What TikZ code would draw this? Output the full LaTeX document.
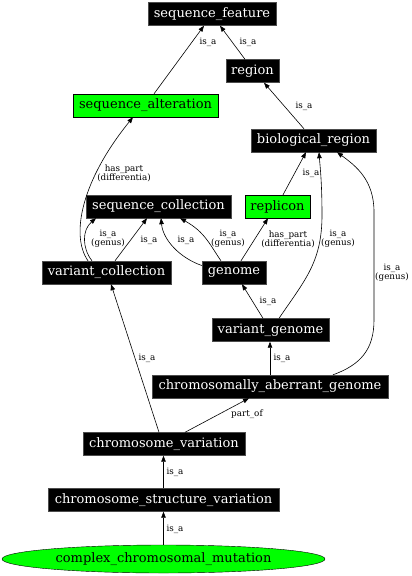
\documentclass[tikz,border=0pt]{standalone}
\usepackage{fontspec}
\setmainfont{DejaVu Serif}
\usetikzlibrary{arrows.meta,shapes.geometric}
\definecolor{ggreen}{HTML}{00FF00}
\tikzset{
  term/.style={rectangle, fill=black, draw=black!70, text=white, minimum height=23pt, inner xsep=2pt, inner ysep=0pt, font=\fontsize{13}{14}\selectfont},
  gterm/.style={rectangle, fill=ggreen, draw=black, text=black, minimum height=23pt, inner xsep=2pt, inner ysep=0pt, font=\fontsize{13}{14}\selectfont},
  gell/.style={ellipse, fill=ggreen, draw=black, text=black, minimum height=28pt, minimum width=323pt, inner sep=0pt, font=\fontsize{13}{14}\selectfont},
  edge/.style={draw=black, line width=0.6pt, -{Triangle[length=6pt,width=4.5pt]}},
  lbl/.style={inner sep=0pt, align=center, font=\fontsize{8.8}{9}\selectfont}
}
\begin{document}
\begin{tikzpicture}[x=1pt,y=-1pt]
\useasboundingbox (0,0) rectangle (412,576);
\fill[white] (0,0) rectangle (412,576);
% nodes
\node[term, minimum width=128pt] (sf) at (212,14) {sequence\_feature};
\node[term, minimum width=53pt] (region) at (252.5,71) {region};
\node[gterm, minimum width=145pt] (salt) at (145.5,105.5) {sequence\_alteration};
\node[term, minimum width=125pt] (bioreg) at (313.5,140.5) {biological\_region};
\node[term, minimum width=145pt] (seqcoll) at (158.5,206.5) {sequence\_collection};
\node[gterm, minimum width=65pt] (replicon) at (277.5,206.5) {replicon};
\node[term, minimum width=129pt] (varcoll) at (106.5,272.5) {variant\_collection};
\node[term, minimum width=64pt] (genome) at (234,272.5) {genome};
\node[term, minimum width=117pt] (vargen) at (270.5,330) {variant\_genome};
\node[term, minimum width=236pt] (cag) at (270,386.5) {chromosomally\_aberrant\_genome};
\node[term, minimum width=162pt] (chromvar) at (164,444) {chromosome\_variation};
\node[term, minimum width=231pt] (csv) at (163.5,500) {chromosome\_structure\_variation};
\node[gell] (ccm) at (163.5,559) {complex\_chromosomal\_mutation};
% edges
\draw[edge] ([xshift=8.5pt]salt.north) -- ([xshift=-8pt]sf.south) node[lbl, at={(208,42)}] {is\_a};
\draw[edge] ([xshift=-7.5pt]region.north) -- ([xshift=8pt]sf.south) node[lbl, at={(248,42)}] {is\_a};
\draw[edge] ([xshift=-9.5pt]bioreg.north) -- ([xshift=11.5pt]region.south) node[lbl, at={(304,106)}] {is\_a};
\draw[edge] ([xshift=-18.5pt]varcoll.north) .. controls (70,235) and (82,180) .. ([xshift=-12.5pt]salt.south) node[lbl, at={(124,173)}] {has\_part\\(differentia)};
\draw[edge] ([xshift=-14.5pt]varcoll.north) .. controls (82,248) and (82,230) .. ([xshift=-62.5pt]seqcoll.south) node[lbl, at={(108,239)}] {is\_a\\(genus)};
\draw[edge] ([xshift=8.5pt]varcoll.north) -- ([xshift=-11.5pt]seqcoll.south) node[lbl, at={(149,240)}] {is\_a};
\draw[edge] ([yshift=7pt]genome.west) .. controls (180,258) and (163,240) .. ([xshift=2.5pt]seqcoll.south) node[lbl, at={(186,240)}] {is\_a};
\draw[edge] ([xshift=-13pt]genome.north) .. controls (210,245) and (205,232) .. ([xshift=21.5pt]seqcoll.south) node[lbl, at={(228,239)}] {is\_a\\(genus)};
\draw[edge] ([xshift=7pt]genome.north) -- ([xshift=-9.5pt]replicon.south) node[lbl, at={(288,239)}] {has\_part\\(differentia)};
\draw[edge] ([xshift=5.5pt]replicon.north) -- ([xshift=-7.5pt]bioreg.south) node[lbl, at={(311,173)}] {is\_a};
\draw[edge] ([xshift=-7.5pt]vargen.north) -- ([xshift=8pt]genome.south) node[lbl, at={(268,301)}] {is\_a};
\draw[edge] ([xshift=8.5pt]vargen.north) .. controls (305,280) and (322,262) .. (322,215) .. controls (322,182) and (320,166) .. ([xshift=5.5pt]bioreg.south) node[lbl, at={(338,239)}] {is\_a\\(genus)};
\draw[edge] (cag.north) -- (cag.north |- vargen.south) node[lbl, at={(282,358)}] {is\_a};
\draw[edge] ([xshift=63pt]cag.north) .. controls (360,365) and (374,350) .. (374,320) -- (374,212) .. controls (374,180) and (356,166) .. ([xshift=23.5pt]bioreg.south) node[lbl, at={(392,273)}] {is\_a\\(genus)};
\draw[edge] ([xshift=-5pt]chromvar.north) -- ([xshift=4.5pt]varcoll.south) node[lbl, at={(147,358)}] {is\_a};
\draw[edge] ([xshift=21pt]chromvar.north) -- ([xshift=-21pt]cag.south) node[lbl, at={(247,414)}] {part\_of};
\draw[edge] (csv.north) -- (chromvar.south -| csv.north) node[lbl, at={(175,472)}] {is\_a};
\draw[edge] (ccm.north) -- (csv.south -| ccm.north) node[lbl, at={(175,529)}] {is\_a};
\end{tikzpicture}
\end{document}
